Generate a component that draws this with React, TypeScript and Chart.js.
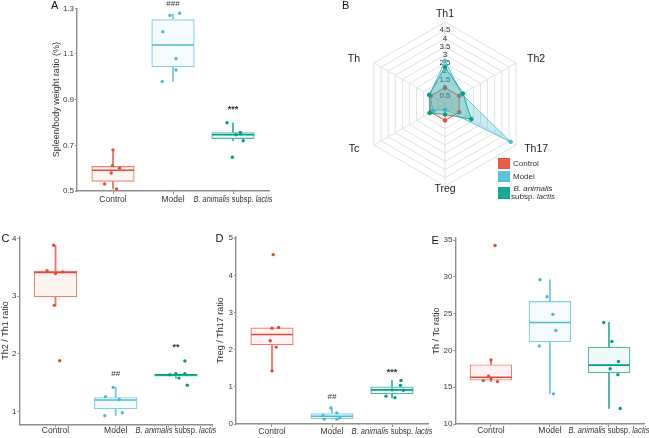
import React, { useEffect, useRef } from 'react';
import { Chart, registerables } from 'chart.js';

Chart.register(...registerables);

const FONT = "'Liberation Sans', Arial, Helvetica, sans-serif";
Chart.defaults.font.family = FONT;

// ---------- shared ----------
const categories = ['Control', 'Model', 'B. animalis subsp. lactis'];
const categoryParts: [string, boolean][][] = [
  [['Control', false]],
  [['Model', false]],
  [['B. animalis', true], [' subsp. ', false], ['lactis', true]],
];
const groupColors = ['#E64B35', '#4DBBD5', '#00A087'];

// ---------- Panel A: spleen/body weight ratio ----------
const spleenQ1 = [0.541, 1.042, 0.728];
const spleenMedian = [0.591, 1.139, 0.746];
const spleenQ3 = [0.609, 1.252, 0.757];
const spleenLow = [0.509, 0.98, 0.72];
const spleenHigh = [0.68, 1.275, 0.799];
const spleenPoints = [
  [0.68, 0.611, 0.6, 0.579, 0.531, 0.509],
  [1.278, 1.269, 1.197, 1.079, 1.03, 0.98],
  [0.799, 0.756, 0.746, 0.72, 0.648, 0.75],
];
const spleenJitter = [
  [0.0, -0.01, 0.11, -0.03, -0.14, 0.06],
  [0.11, -0.05, -0.17, 0.05, 0.05, -0.18],
  [-0.1, 0.12, 0.05, 0.17, -0.01, 0.13],
];
const spleenTicks = [0.5, 0.7, 0.9, 1.1, 1.3];
const spleenMarks = ['', '###', '***'];
const spleenMarkY = [null, 1.319, 0.866];

// ---------- Panel C: Th2 / Th1 ----------
const th2th1Q1 = [2.98, 1.04, 1.606];
const th2th1Median = [3.41, 1.2, 1.635];
const th2th1Q3 = [3.44, 1.25, 1.652];
const th2th1Low = [2.84, 0.93, 1.58];
const th2th1High = [3.88, 1.42, 1.657];
const th2th1Points = [
  [3.88, 3.44, 3.39, 3.42, 2.84, 1.88],
  [1.42, 1.26, 1.21, 0.98, 0.93],
  [1.877, 1.64, 1.657, 1.657, 1.58, 1.457],
];
const th2th1Jitter = [
  [-0.03, -0.14, 0.0, 0.12, -0.02, 0.07],
  [-0.04, -0.17, 0.06, 0.11, -0.18],
  [0.15, -0.1, 0.0, 0.15, 0.05, 0.19],
];
const th2th1Ticks = [1, 2, 3, 4];
const th2th1Marks = ['', '##', '**'];
const th2th1MarkY = [null, 1.66, 2.15];

// ---------- Panel D: Treg / Th17 ----------
const tregTh17Q1 = [2.12, 0.13, 0.8];
const tregTh17Median = [2.41, 0.21, 0.92];
const tregTh17Q3 = [2.6, 0.29, 1.01];
const tregTh17Low = [1.43, 0.13, 0.71];
const tregTh17High = [2.6, 0.43, 1.17];
const tregTh17Points = [
  [4.56, 2.58, 2.6, 2.24, 2.07, 1.43],
  [0.43, 0.3, 0.23, 0.17, 0.13, 0.13],
  [1.17, 1.04, 0.92, 0.91, 0.75, 0.71],
];
const tregTh17Jitter = [
  [0.02, 0.0, 0.11, -0.03, 0.07, 0.0],
  [-0.02, 0.08, -0.15, 0.13, -0.13, 0.08],
  [0.15, 0.14, 0.0, 0.19, -0.1, 0.05],
];
const tregTh17Ticks = [0, 1, 2, 3, 4, 5];
const tregTh17Marks = ['', '##', '***'];
const tregTh17MarkY = [null, 0.73, 1.46];

// ---------- Panel E: Th / Tc ----------
const thTcQ1 = [15.9, 21.1, 16.9];
const thTcMedian = [16.35, 23.8, 18.0];
const thTcQ3 = [18.1, 26.7, 20.5];
const thTcLow = [15.76, 14.1, 12.1];
const thTcHigh = [18.7, 29.6, 23.8];
const thTcPoints = [
  [34.26, 18.7, 16.5, 16.1, 15.9, 15.76],
  [29.6, 27.3, 24.9, 22.7, 20.6, 14.1],
  [23.8, 21.2, 18.5, 17.5, 16.7, 12.1],
];
const thTcJitter = [
  [0.07, 0.0, -0.04, 0.0, -0.13, 0.11],
  [-0.17, -0.05, 0.05, 0.1, -0.18, 0.06],
  [-0.09, 0.05, 0.16, 0.02, 0.15, 0.19],
];
const thTcTicks = [10, 15, 20, 25, 30, 35];
const thTcMarks = ['', '', ''];
const thTcMarkY = [null, null, null];

// ---------- Panel B: radar ----------
const radarAxes = ['Th1', 'Th2', 'Th17', 'Treg', 'Tc', 'Th'];
const radarControl = [1, 1, 1, 1, 1, 1];
const radarModel = [2.63, 1.2, 4.62, 0.34, 0.83, 1.1];
const radarBal = [2.25, 1.27, 1.85, 0.64, 1.09, 1.11];
const radarMax = 5;
const radarStep = 0.5;

// ---------- helpers ----------
const rgba = (hex: string, a: number) => {
  const n = parseInt(hex.slice(1), 16);
  return `rgba(${n >> 16},${(n >> 8) & 255},${n & 255},${a})`;
};
const AXIS_GREY = '#8e8e8e';
const TEXT = '#333333';

function drawParts(
  ctx: CanvasRenderingContext2D,
  parts: [string, boolean][],
  cx: number,
  y: number,
  size: number,
  maxW: number
) {
  const widths = parts.map(([t, it]) => {
    ctx.font = `${it ? 'italic ' : ''}${size}px ${FONT}`;
    return ctx.measureText(t).width;
  });
  const total = widths.reduce((a, b) => a + b, 0);
  const k = Math.min(1, maxW / total);
  ctx.save();
  ctx.translate(cx, y);
  ctx.scale(k, 1);
  let x = -total / 2;
  parts.forEach(([t, it], i) => {
    ctx.font = `${it ? 'italic ' : ''}${size}px ${FONT}`;
    ctx.fillText(t, x, 0);
    x += widths[i];
  });
  ctx.restore();
}

type BoxData = {
  q1: number[]; med: number[]; q3: number[]; lo: number[]; hi: number[];
  pts: number[][]; jit: number[][]; ticks: number[];
  marks: string[]; markY: (number | null)[];
  yMin: number; yMax: number; yTitle: string;
};
type BoxLayout = {
  yAxisWidth: number; padTop: number; padRight: number; xAxisHeight: number;
  titlePad: number; labelGap: number; xFont: number; labelMaxW: number;
};

function boxConfig(d: BoxData, L: BoxLayout): any {
  const xs = categories.map((_, i) => i + 1);
  const pointSets = d.pts.map((arr, g) => ({
    type: 'scatter',
    data: arr.map((v, k) => ({ x: g + 1 + d.jit[g][k], y: v })),
    pointBackgroundColor: groupColors[g],
    pointBorderWidth: 0,
    pointRadius: 1.7,
    order: 0,
  }));
  const datasets: any[] = [
    ...pointSets,
    {
      type: 'bar',
      label: 'box',
      data: xs.map((x, i) => ({ x, y: [d.q1[i], d.q3[i]] })),
      backgroundColor: groupColors.map((c) => rgba(c, 0.06)),
      borderColor: groupColors.map((c) => rgba(c, 0.7)),
      borderWidth: 1.2,
      borderSkipped: false,
      grouped: false,
      order: 2,
    },
    {
      type: 'bar',
      data: xs.map((x, i) => ({ x, y: [d.q3[i], d.hi[i]] })),
      backgroundColor: groupColors.map((c) => rgba(c, 0.75)),
      barThickness: 1.2,
      grouped: false,
      order: 3,
    },
    {
      type: 'bar',
      data: xs.map((x, i) => ({ x, y: [d.lo[i], d.q1[i]] })),
      backgroundColor: groupColors.map((c) => rgba(c, 0.75)),
      barThickness: 1.2,
      grouped: false,
      order: 3,
    },
  ];

  const boxPlugin = {
    id: 'boxExtras',
    afterDatasetDraw(chart: any, args: any) {
      const ds = chart.data.datasets[args.index];
      if (ds.label !== 'box') return;
      const ctx = chart.ctx;
      const ys = chart.scales.y;
      args.meta.data.forEach((el: any, i: number) => {
        const y = ys.getPixelForValue(d.med[i]);
        ctx.save();
        ctx.strokeStyle = groupColors[i];
        ctx.lineWidth = 1.6;
        ctx.beginPath();
        ctx.moveTo(el.x - el.width / 2 + 0.6, y);
        ctx.lineTo(el.x + el.width / 2 - 0.6, y);
        ctx.stroke();
        ctx.restore();
      });
    },
    afterDraw(chart: any) {
      const ctx = chart.ctx;
      const xsS = chart.scales.x;
      const ysS = chart.scales.y;
      ctx.save();
      ctx.fillStyle = TEXT;
      ctx.textBaseline = 'middle';
      ctx.textAlign = 'left';
      const yLab = chart.chartArea.bottom + L.labelGap;
      categoryParts.forEach((parts, i) => {
        drawParts(ctx, parts, xsS.getPixelForValue(i + 1), yLab, L.xFont, L.labelMaxW);
      });
      ctx.textAlign = 'center';
      d.marks.forEach((m, i) => {
        const v = d.markY[i];
        if (!m || v === null) return;
        let y = ysS.getPixelForValue(v);
        if (m.startsWith('*')) {
          ctx.font = `bold 9px ${FONT}`;
          y += 2.5;
        } else {
          ctx.font = `8px ${FONT}`;
        }
        ctx.fillText(m, xsS.getPixelForValue(i + 1), y);
      });
      ctx.restore();
    },
  };

  return {
    type: 'bar',
    data: { datasets },
    options: {
      responsive: false,
      animation: false,
      events: [],
      layout: { padding: { left: 0, top: L.padTop, right: L.padRight, bottom: 0 } },
      plugins: { legend: { display: false }, tooltip: { enabled: false } },
      scales: {
        x: {
          type: 'linear',
          min: 0.4,
          max: 3.6,
          offset: false,
          afterBuildTicks: (ax: any) => {
            ax.ticks = xs.map((v) => ({ value: v }));
          },
          afterFit: (ax: any) => {
            ax.height = L.xAxisHeight;
          },
          ticks: { display: false },
          grid: { display: true, offset: false, drawOnChartArea: false, drawTicks: true, tickLength: 3, color: AXIS_GREY },
          border: { display: true, color: AXIS_GREY, width: 1.4 },
        },
        y: {
          type: 'linear',
          min: d.yMin,
          max: d.yMax,
          afterBuildTicks: (ax: any) => {
            ax.ticks = d.ticks.map((v) => ({ value: v }));
          },
          afterFit: (ax: any) => {
            ax.width = L.yAxisWidth;
          },
          ticks: { font: { size: 8, family: FONT }, color: '#3a3a3a', padding: 1, callback: (v: any) => String(v) },
          grid: { drawOnChartArea: false, drawTicks: true, tickLength: 2, color: AXIS_GREY },
          border: { display: true, color: AXIS_GREY, width: 1.4 },
          title: {
            display: true,
            text: d.yTitle,
            color: TEXT,
            font: { size: 9, family: FONT, lineHeight: 1 },
            padding: { top: L.titlePad, bottom: 0 },
          },
        },
      },
    },
    plugins: [boxPlugin],
  };
}

function radarConfig(): any {
  const labelPlugin = {
    id: 'radarLabels',
    afterDraw(chart: any) {
      const r = chart.scales.r;
      const ctx = chart.ctx;
      ctx.save();
      ctx.fillStyle = '#222';
      ctx.font = `10.5px ${FONT}`;
      ctx.textAlign = 'center';
      ctx.textBaseline = 'middle';
      radarAxes.forEach((lab, i) => {
        const probe = r.getPointPositionForValue(i, 1);
        const vertical = Math.abs(probe.x - r.xCenter) < 0.5;
        const below = probe.y > r.yCenter;
        const v = vertical && below ? 5.2 : 5.5;
        const p = r.getPointPositionForValue(i, v);
        const off = vertical ? 0 : p.x > r.xCenter ? 13 : -13;
        ctx.fillText(lab, p.x + off, p.y);
      });
      ctx.restore();
    },
  };
  const mk = (label: string, data: number[], color: string, a: number, order: number) => ({
    label,
    data,
    order,
    borderColor: rgba(color, 0.8),
    backgroundColor: rgba(color, a),
    borderWidth: 1,
    pointBackgroundColor: color,
    pointBorderColor: color,
    pointRadius: 1.8,
    fill: true,
  });
  return {
    type: 'radar',
    data: {
      labels: radarAxes,
      datasets: [
        mk('Control', radarControl, groupColors[0], 0.18, 3),
        mk('Model', radarModel, groupColors[1], 0.3, 2),
        mk('B. animalis subsp. lactis', radarBal, groupColors[2], 0.22, 1),
      ],
    },
    options: {
      responsive: false,
      animation: false,
      events: [],
      layout: { padding: { left: 22, top: 16, right: 32, bottom: 23 } },
      elements: { line: { tension: 0 } },
      plugins: { legend: { display: false }, tooltip: { enabled: false } },
      scales: {
        r: {
          min: 0,
          max: radarMax,
          beginAtZero: true,
          ticks: {
            stepSize: radarStep,
            showLabelBackdrop: false,
            color: '#333',
            font: { size: 8, family: FONT },
            callback: (v: any) => (v === radarMax ? '' : String(v)),
          },
          pointLabels: { display: false },
          grid: { color: '#e2e2e2' },
          angleLines: { color: '#e2e2e2' },
        },
      },
    },
    plugins: [labelPlugin],
  };
}

function ChartCanvas({ make, left, top, width, height }: any) {
  const ref = useRef<HTMLCanvasElement>(null);
  useEffect(() => {
    const chart = new Chart(ref.current as HTMLCanvasElement, make());
    return () => chart.destroy();
  }, []);
  return (
    <canvas
      ref={ref}
      width={width}
      height={height}
      style={{ position: 'absolute', left, top, width, height }}
    />
  );
}

const letterStyle: React.CSSProperties = {
  position: 'absolute',
  fontFamily: FONT,
  fontSize: 11,
  color: '#111',
  lineHeight: '12px',
};

export default function App() {
  const dataA: BoxData = {
    q1: spleenQ1, med: spleenMedian, q3: spleenQ3, lo: spleenLow, hi: spleenHigh,
    pts: spleenPoints, jit: spleenJitter, ticks: spleenTicks, marks: spleenMarks, markY: spleenMarkY,
    yMin: 0.5, yMax: 1.3, yTitle: 'Spleen/body weight ratio (%)',
  };
  const dataC: BoxData = {
    q1: th2th1Q1, med: th2th1Median, q3: th2th1Q3, lo: th2th1Low, hi: th2th1High,
    pts: th2th1Points, jit: th2th1Jitter, ticks: th2th1Ticks, marks: th2th1Marks, markY: th2th1MarkY,
    yMin: 0.78, yMax: 4.03, yTitle: 'Th2 / Th1 ratio',
  };
  const dataD: BoxData = {
    q1: tregTh17Q1, med: tregTh17Median, q3: tregTh17Q3, lo: tregTh17Low, hi: tregTh17High,
    pts: tregTh17Points, jit: tregTh17Jitter, ticks: tregTh17Ticks, marks: tregTh17Marks, markY: tregTh17MarkY,
    yMin: 0, yMax: 5.04, yTitle: 'Treg / Th17 ratio',
  };
  const dataE: BoxData = {
    q1: thTcQ1, med: thTcMedian, q3: thTcQ3, lo: thTcLow, hi: thTcHigh,
    pts: thTcPoints, jit: thTcJitter, ticks: thTcTicks, marks: thTcMarks, markY: thTcMarkY,
    yMin: 10, yMax: 35.3, yTitle: 'Th / Tc ratio',
  };

  return (
    <div style={{ position: 'absolute', left: 0, top: 0, width: 649, height: 438, background: '#fff', overflow: 'hidden' }}>
      <ChartCanvas
        left={0} top={0} width={330} height={215}
        make={() => boxConfig(dataA, { yAxisWidth: 77, padTop: 8.3, padRight: 61, xAxisHeight: 24, titlePad: 52.5, labelGap: 8.3, xFont: 8.5, labelMaxW: 79 })}
      />
      <ChartCanvas
        left={0} top={222} width={216} height={216}
        make={() => boxConfig(dataC, { yAxisWidth: 19.4, padTop: 14.6, padRight: 1.4, xAxisHeight: 13.7, titlePad: 1.3, labelGap: 6.5, xFont: 8.5, labelMaxW: 81 })}
      />
      <ChartCanvas
        left={216} top={222} width={216} height={216}
        make={() => boxConfig(dataD, { yAxisWidth: 20, padTop: 14.8, padRight: 2.4, xAxisHeight: 14, titlePad: 0.3, labelGap: 7.5, xFont: 8.5, labelMaxW: 81 })}
      />
      <ChartCanvas
        left={432} top={222} width={217} height={216}
        make={() => boxConfig(dataE, { yAxisWidth: 23.5, padTop: 15.8, padRight: 4.6, xAxisHeight: 14, titlePad: 0, labelGap: 6.5, xFont: 8.5, labelMaxW: 81 })}
      />
      <ChartCanvas left={335} top={0} width={230} height={215} make={radarConfig} />

      {/* radar legend */}
      <div style={{ position: 'absolute', left: 498, top: 158, width: 12, height: 11, background: rgba(groupColors[0], 0.9), boxShadow: `inset 0 0 0 1px ${rgba(groupColors[0], 0.5)}` }} />
      <div style={{ position: 'absolute', left: 498, top: 171, width: 12, height: 11, background: rgba(groupColors[1], 0.9), boxShadow: `inset 0 0 0 1px ${rgba(groupColors[1], 0.5)}` }} />
      <div style={{ position: 'absolute', left: 498, top: 187, width: 12, height: 11.5, background: rgba(groupColors[2], 0.9), boxShadow: `inset 0 0 0 1px ${rgba(groupColors[2], 0.5)}` }} />
      <div style={{ position: 'absolute', left: 513, top: 159, fontFamily: FONT, fontSize: 8, lineHeight: '10px', color: TEXT }}>Control</div>
      <div style={{ position: 'absolute', left: 513, top: 172, fontFamily: FONT, fontSize: 8, lineHeight: '10px', color: TEXT }}>Model</div>
      <div style={{ position: 'absolute', left: 508, top: 184.5, width: 50, textAlign: 'center', fontFamily: FONT, fontSize: 8, lineHeight: '8.5px', color: TEXT }}>
        <i>B. animalis</i>
        <br />
        subsp. <i>lactis</i>
      </div>

      {/* panel letters */}
      <div style={{ ...letterStyle, left: 51, top: -1 }}>A</div>
      <div style={{ ...letterStyle, left: 342, top: -1 }}>B</div>
      <div style={{ ...letterStyle, left: 1.5, top: 232 }}>C</div>
      <div style={{ ...letterStyle, left: 215.5, top: 232 }}>D</div>
      <div style={{ ...letterStyle, left: 431.5, top: 233.5 }}>E</div>
    </div>
  );
}
